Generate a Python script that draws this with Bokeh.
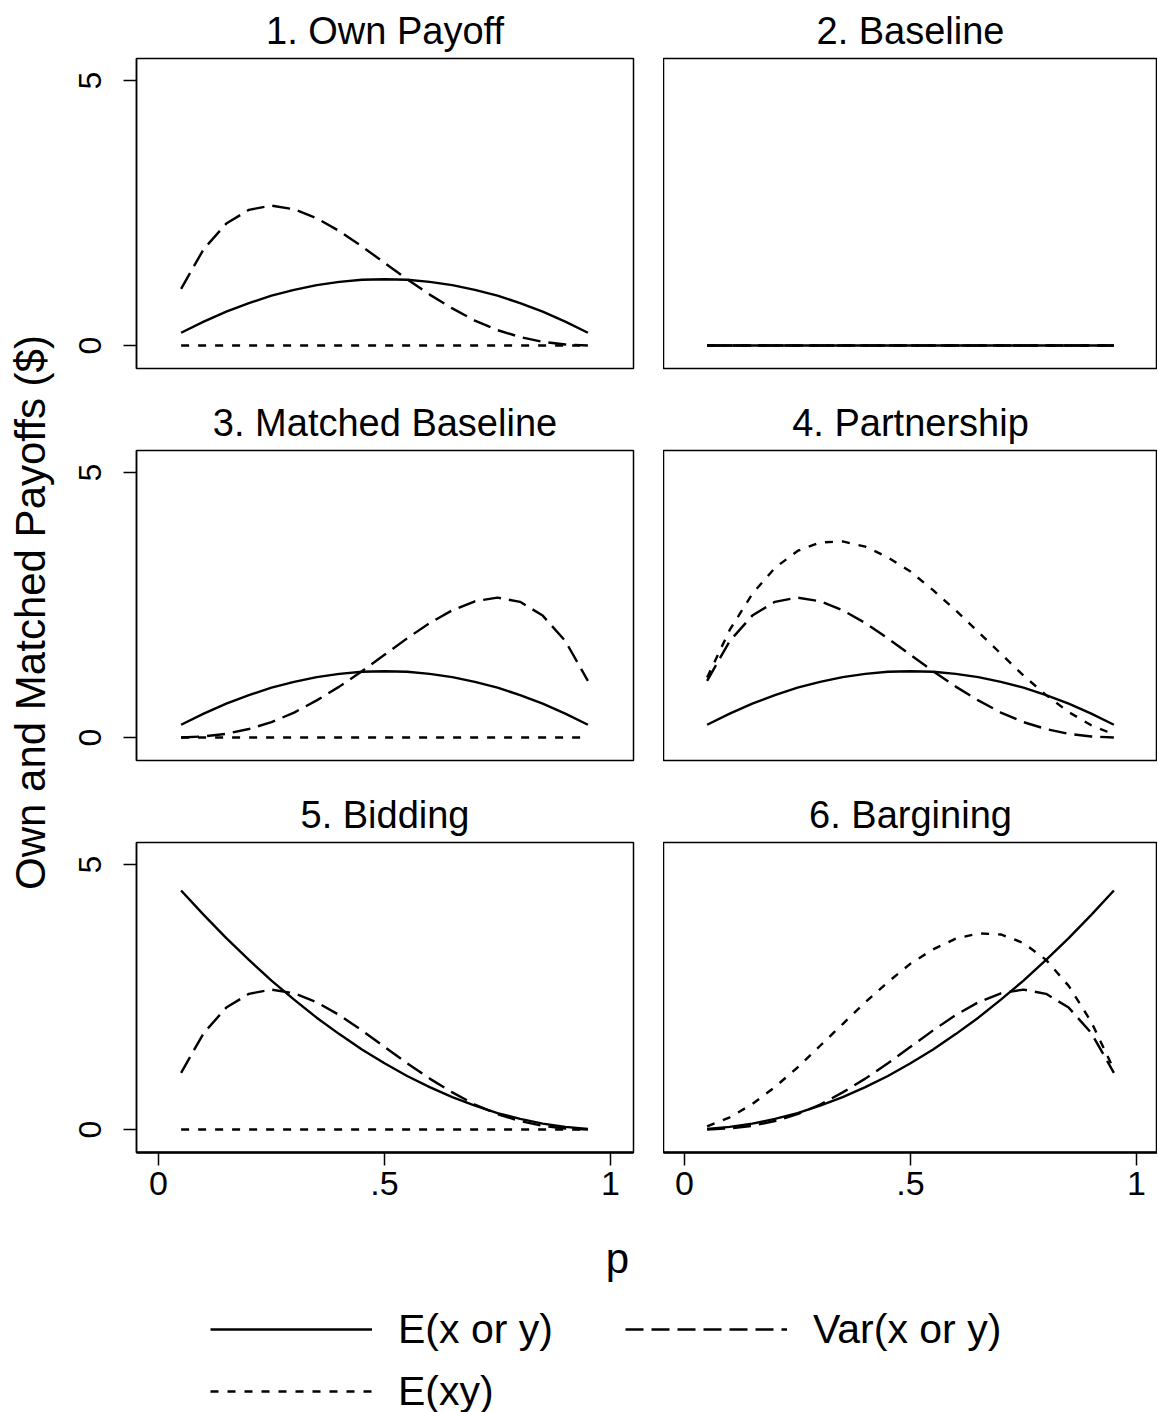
from bokeh.plotting import figure
from bokeh.layouts import column, row
from bokeh.models import Range1d, LinearAxis, FixedTicker, Legend, LegendItem, Label
from bokeh.embed import file_html
from bokeh.resources import INLINE

# ---------------- data ----------------
p_vals = [0.05, 0.10, 0.15, 0.20, 0.25, 0.30, 0.35, 0.40, 0.45, 0.50,
          0.55, 0.60, 0.65, 0.70, 0.75, 0.80, 0.85, 0.90, 0.95]

titles = ["1. Own Payoff", "2. Baseline", "3. Matched Baseline",
          "4. Partnership", "5. Bidding", "6. Bargining"]

# E(x or y)
ex_hump = [0.24, 0.45, 0.64, 0.80, 0.94, 1.05, 1.14, 1.20, 1.24, 1.25,
           1.24, 1.20, 1.14, 1.05, 0.94, 0.80, 0.64, 0.45, 0.24]
ex_bidding = [4.51, 4.05, 3.61, 3.20, 2.81, 2.45, 2.11, 1.80, 1.51, 1.25,
              1.01, 0.80, 0.61, 0.45, 0.31, 0.20, 0.11, 0.05, 0.01]
ex_bargaining = [0.01, 0.05, 0.11, 0.20, 0.31, 0.45, 0.61, 0.80, 1.01, 1.25,
                 1.51, 1.80, 2.11, 2.45, 2.81, 3.20, 3.61, 4.05, 4.51]
zeros = [0.0, 0.0, 0.0, 0.0, 0.0, 0.0, 0.0, 0.0, 0.0, 0.0,
         0.0, 0.0, 0.0, 0.0, 0.0, 0.0, 0.0, 0.0, 0.0]

# Var(x or y)
var_early = [1.07, 1.82, 2.30, 2.56, 2.64, 2.57, 2.40, 2.16, 1.87, 1.56,
             1.25, 0.96, 0.70, 0.47, 0.29, 0.16, 0.07, 0.02, 0.00]
var_late = [0.00, 0.02, 0.07, 0.16, 0.29, 0.47, 0.70, 0.96, 1.25, 1.56,
            1.87, 2.16, 2.40, 2.57, 2.64, 2.56, 2.30, 1.82, 1.07]

# E(xy)
exy_partnership = [1.13, 2.03, 2.71, 3.20, 3.52, 3.68, 3.70, 3.60, 3.40, 3.13,
                   2.78, 2.40, 1.99, 1.58, 1.17, 0.80, 0.48, 0.23, 0.06]
exy_bargaining = [0.06, 0.23, 0.48, 0.80, 1.17, 1.58, 1.99, 2.40, 2.78, 3.13,
                  3.40, 3.60, 3.70, 3.68, 3.52, 3.20, 2.71, 2.03, 1.13]

panel_ex = [ex_hump, zeros, ex_hump, ex_hump, ex_bidding, ex_bargaining]
panel_var = [var_early, zeros, var_late, var_early, var_early, var_late]
panel_exy = [zeros, zeros, zeros, exy_partnership, zeros, exy_bargaining]

x_ticks = [0, 0.5, 1]
x_tick_labels = {0: "0", 0.5: ".5", 1: "1"}
y_ticks = [0, 5]
y_title = "Own and Matched Payoffs ($)"
x_title = "p"
legend_labels = ["E(x or y)", "Var(x or y)", "E(xy)"]

FONT = "Liberation Sans"
LW = 2.4
SOLID = "solid"
DASH = "18 8"
DOT = "8 9"

LABEL_W = 60


def make_panel(i):
    left = (i % 2 == 0)
    bottom = (i >= 4)
    if left:
        fw, xr = 497, Range1d(-0.0487, 1.0509)
    else:
        fw, xr = 494, Range1d(-0.0465, 1.0465)
    f = figure(title=titles[i], frame_width=fw, frame_height=310,
               x_range=xr, y_range=Range1d(-0.434, 5.415),
               x_axis_location=None, y_axis_location=None,
               toolbar_location=None, output_backend="svg",
               min_border_left=(136 - LABEL_W) if left else 0,
               min_border_right=30 if left else 0,
               min_border_top=57,
               min_border_bottom=62 if bottom else 24,
               background_fill_color="white", border_fill_color="white",
               outline_line_color="black", outline_line_width=1.5)
    f.grid.grid_line_color = None
    f.title.align = "center"
    f.title.text_font = FONT
    f.title.text_font_size = "38px"
    f.title.text_font_style = "normal"
    f.title.text_color = "black"
    f.title.standoff = 14

    if left:
        ya = LinearAxis(ticker=FixedTicker(ticks=y_ticks),
                        major_label_orientation="vertical",
                        major_tick_out=13, major_tick_in=0, minor_tick_out=0,
                        major_tick_line_width=1.5,
                        major_label_standoff=22,
                        major_label_text_font=FONT,
                        major_label_text_font_size="32px",
                        major_label_text_color="black",
                        axis_line_width=1.5, axis_line_color="black")
        f.add_layout(ya, "left")
    if bottom:
        xa = LinearAxis(ticker=FixedTicker(ticks=x_ticks),
                        major_label_overrides=x_tick_labels,
                        major_tick_out=13, major_tick_in=0, minor_tick_out=0,
                        major_tick_line_width=1.5,
                        major_label_standoff=6,
                        major_label_text_font=FONT,
                        major_label_text_font_size="34px",
                        major_label_text_color="black",
                        axis_line_width=2.5, axis_line_color="black")
        f.add_layout(xa, "below")

    f.line(p_vals, panel_exy[i], line_color="black", line_width=LW, line_dash=DOT)
    f.line(p_vals, panel_var[i], line_color="black", line_width=LW, line_dash=DASH)
    f.line(p_vals, panel_ex[i], line_color="black", line_width=LW, line_dash=SOLID)
    return f


figs = [make_panel(i) for i in range(6)]
grid_h = 391 + 391 + 429

# left strip carrying the shared y title as an axis label
yf = figure(frame_width=1, frame_height=grid_h - 13, x_range=Range1d(0, 1),
            y_range=Range1d(0, 1), toolbar_location=None, output_backend="svg",
            x_axis_location=None, y_axis_location=None,
            min_border_left=LABEL_W - 1, min_border_right=0,
            min_border_top=13, min_border_bottom=0,
            outline_line_color=None, background_fill_color="white",
            border_fill_color="white")
yf.grid.grid_line_color = None
ytitle_axis = LinearAxis(ticker=FixedTicker(ticks=[]), axis_line_color=None,
                         major_tick_out=0, major_tick_in=0, minor_tick_out=0,
                         minor_tick_in=0, major_label_text_font_size="0px",
                         axis_label=y_title, axis_label_standoff=6,
                         axis_label_text_font=FONT,
                         axis_label_text_font_size="42px",
                         axis_label_text_font_style="normal",
                         axis_label_text_color="black")
yf.add_layout(ytitle_axis, "left")

# bottom area: x title and legend
lf = figure(width=1158, height=201, x_range=Range1d(0, 1), y_range=Range1d(0, 1),
            toolbar_location=None, output_backend="svg",
            x_axis_location=None, y_axis_location=None, min_border=0,
            outline_line_color=None, background_fill_color="white",
            border_fill_color="white")
lf.grid.grid_line_color = None
# keys drawn outside the visible range; only their legend samples show
r_ex = lf.line([0, 1], [-5, -5], line_color="black", line_width=LW)
r_var = lf.line([0, 1], [-5, -5], line_color="black", line_width=LW, line_dash=DASH)
r_exy = lf.line([0, 1], [-5, -5], line_color="black", line_width=LW, line_dash=DOT)

common = dict(orientation="vertical", glyph_width=162, glyph_height=48,
              label_height=48, label_standoff=26, spacing=14, padding=0,
              margin=0, border_line_color=None, background_fill_alpha=0,
              label_text_font=FONT, label_text_font_size="41px",
              label_text_color="black")
leg_a = Legend(items=[LegendItem(label=legend_labels[0], renderers=[r_ex]),
                      LegendItem(label=legend_labels[2], renderers=[r_exy])],
               location=(210, 0), **common)
leg_b = Legend(items=[LegendItem(label=legend_labels[1], renderers=[r_var])],
               location=(625, 62), **common)
lf.add_layout(leg_a)
lf.add_layout(leg_b)
lf.add_layout(Label(x=617, y=157, x_units="screen", y_units="screen", text=x_title,
                    text_align="center", text_baseline="alphabetic",
                    text_font=FONT, text_font_size="42px", text_color="black"))

grid = column(row(figs[0], figs[1]), row(figs[2], figs[3]), row(figs[4], figs[5]))
layout = column(row(yf, grid), lf)

open("out.html", "w").write(file_html(layout, INLINE))
